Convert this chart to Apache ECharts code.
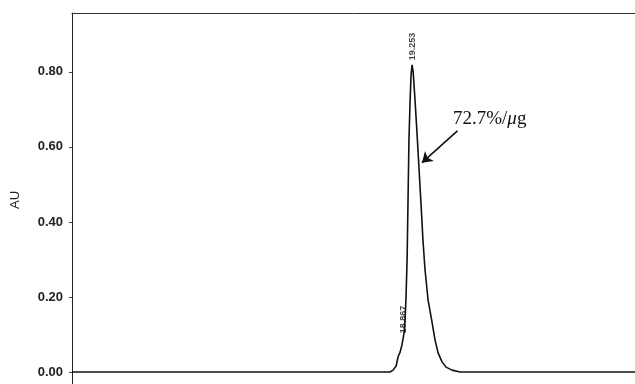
<!DOCTYPE html>
<html>
<head>
<meta charset="utf-8">
<script src="https://cdn.jsdelivr.net/npm/echarts@6/dist/echarts.min.js"></script>
<style>html,body{margin:0;padding:0;background:#fff;}#c{width:635px;height:384px;}</style>
</head>
<body>
<div id="c"></div>
<script>
// Retention time (min) and absorbance (AU)
var times = [4.66, 18.30, 18.44, 18.57, 18.65, 18.74, 18.82, 18.91, 18.95, 18.99, 19.04, 19.08, 19.12, 19.17, 19.21, 19.253, 19.30, 19.38, 19.47, 19.55, 19.64, 19.72, 19.81, 19.94, 20.11, 20.24, 20.37, 20.54, 20.71, 20.97, 21.31, 28.82];
var au    = [0.000, 0.000, 0.005, 0.016, 0.040, 0.053, 0.072, 0.104, 0.139, 0.192, 0.299, 0.459, 0.619, 0.725, 0.792, 0.819, 0.800, 0.725, 0.632, 0.544, 0.445, 0.352, 0.272, 0.192, 0.133, 0.085, 0.051, 0.027, 0.013, 0.005, 0.000, 0.000];
var peakTimes  = [18.867, 19.253];
var peakHeights = [0.075, 0.819];
var peakDistances = [10, 4];
var yTicks = [0.00, 0.20, 0.40, 0.60, 0.80];
var annotationText = '72.7%/';
var arrowFrom = [21.20, 0.643];
var arrowTo = [19.68, 0.558];

var chart = echarts.init(document.getElementById('c'));
var lineData = times.map(function (t, i) { return [t, au[i]]; });
var peakData = peakTimes.map(function (t, i) {
  return { value: [t, peakHeights[i]], label: { distance: peakDistances[i] } };
});

chart.setOption({
  animation: false,
  backgroundColor: '#fff',
  grid: { left: 72, top: 13, right: 0, bottom: 0 },
  xAxis: [{
    type: 'value', min: 4.66, max: 28.82, position: 'bottom',
    axisLine: { show: false }, axisTick: { show: false }, axisLabel: { show: false }, splitLine: { show: false }
  }, {
    type: 'value', min: 4.66, max: 28.82, position: 'top',
    axisLine: { show: true, lineStyle: { color: '#333', width: 1 } },
    axisTick: { show: false }, axisLabel: { show: false }, splitLine: { show: false }
  }],
  yAxis: {
    type: 'value', min: -0.032, max: 0.957,
    axisLine: { show: true, onZero: false, lineStyle: { color: '#222', width: 1 } },
    axisTick: { show: true, length: 3, customValues: yTicks, lineStyle: { color: '#444' } },
    splitLine: { show: false },
    axisLabel: {
      margin: 9, color: '#222', fontFamily: 'Arial, Liberation Sans, sans-serif', fontSize: 13, fontWeight: 'bold',
      customValues: yTicks,
      formatter: function (v) { return v.toFixed(2); }
    }
  },
  series: [{
    type: 'line', data: lineData, showSymbol: false, symbol: 'none',
    lineStyle: { color: '#111', width: 1.6 },
    markLine: {
      silent: true, symbol: ['none', 'arrow'], symbolSize: 10,
      lineStyle: { color: '#111', width: 1.6, type: 'solid' },
      label: { show: false },
      data: [[{ coord: arrowFrom }, { coord: arrowTo }]]
    }
  }, {
    type: 'scatter', data: peakData, symbolSize: 1,
    itemStyle: { color: 'rgba(0,0,0,0)' },
    label: {
      show: true, position: 'top', rotate: 90, align: 'left', verticalAlign: 'middle',
      fontSize: 9, fontWeight: 'bold', color: '#111', fontFamily: 'Arial, Liberation Sans, sans-serif',
      formatter: function (p) { return p.value[0].toFixed(3); }
    }
  }],
  graphic: [{
    type: 'text', x: 15, y: 200, rotation: Math.PI / 2,
    style: { text: 'AU', fill: '#222', font: '13px Arial, Liberation Sans, sans-serif', align: 'center', verticalAlign: 'middle' }
  }, {
    type: 'text', x: 453, y: 119,
    style: {
      text: '{a|' + annotationText + '}{m|μ}{a|g}',
      verticalAlign: 'middle',
      rich: {
        a: { fontFamily: 'Liberation Serif, Times New Roman, serif', fontSize: 19, fill: '#111', color: '#111' },
        m: { fontFamily: 'Liberation Serif, Times New Roman, serif', fontSize: 19, fontStyle: 'italic', fill: '#111', color: '#111' }
      }
    }
  }]
});
</script>
</body>
</html>
